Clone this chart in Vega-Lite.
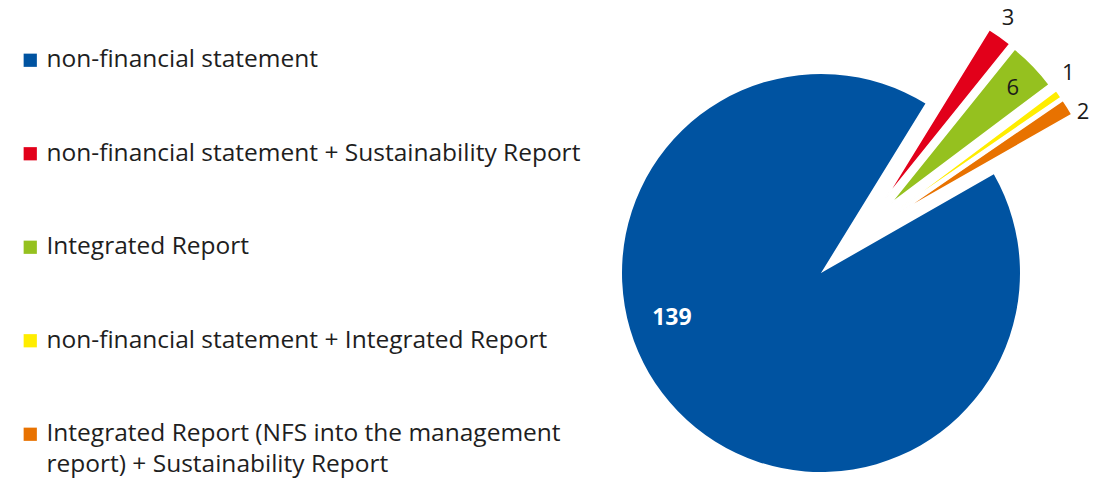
{
  "$schema": "https://vega.github.io/schema/vega-lite/v6.json",
  "width": 440,
  "height": 416,
  "autosize": {"type": "none"},
  "padding": {"left": 601, "top": 65, "right": 63, "bottom": 0},
  "background": "white",
  "config": {
    "view": {"stroke": null},
    "font": "Open Sans",
    "style": {"guide-label": {"lineHeight": 31}}
  },
  "data": {
    "values": [
      {"cat": "non-financial statement", "n": 139, "k": 1},
      {"cat": "non-financial statement + Sustainability Report", "n": 3, "k": 2},
      {"cat": "Integrated Report", "n": 6, "k": 3},
      {"cat": "non-financial statement + Integrated Report", "n": 1, "k": 4},
      {"cat": "Integrated Report (NFS into the management report) + Sustainability Report", "n": 2, "k": 5}
    ]
  },
  "encoding": {
    "theta": {"field": "n", "type": "quantitative", "stack": true, "scale": {"range": [1.052, 7.335]}},
    "order": {"field": "k", "type": "quantitative"},
    "color": {
      "field": "cat",
      "type": "nominal",
      "scale": {
        "domain": [
          "non-financial statement",
          "non-financial statement + Sustainability Report",
          "Integrated Report",
          "non-financial statement + Integrated Report",
          "Integrated Report (NFS into the management report) + Sustainability Report"
        ],
        "range": ["#0053A1", "#E2001A", "#95C11F", "#FFED00", "#E87200"]
      },
      "legend": {
        "orient": "none",
        "legendX": -583,
        "legendY": -17,
        "title": null,
        "symbolType": "square",
        "symbolSize": 175,
        "symbolStrokeWidth": 0,
        "labelFont": "Open Sans",
        "labelFontSize": 24.5,
        "labelColor": "#1e1e1e",
        "labelLimit": 700,
        "labelOffset": 4,
        "rowPadding": 68.5,
        "labelExpr": "datum.label == 'Integrated Report (NFS into the management report) + Sustainability Report' ? ['Integrated Report (NFS into the management', 'report) + Sustainability Report'] : datum.label"
      }
    }
  },
  "layer": [
    {
      "mark": {"type": "arc", "radius": 199},
      "encoding": {
        "opacity": {"condition": {"test": "datum.k == 1", "value": 1}, "value": 0}
      }
    },
    {
      "mark": {"type": "arc", "radius": 199, "xOffset": 64, "yOffset": -74, "stroke": "white", "strokeWidth": 1.5},
      "encoding": {
        "opacity": {"condition": {"test": "datum.k == 2", "value": 1}, "value": 0}
      }
    },
    {
      "mark": {"type": "arc", "radius": 199, "xOffset": 69, "yOffset": -69, "stroke": "white", "strokeWidth": 1.5},
      "encoding": {
        "opacity": {"condition": {"test": "datum.k == 3", "value": 1}, "value": 0}
      }
    },
    {
      "mark": {"type": "arc", "radius": 199, "xOffset": 76, "yOffset": -63, "stroke": "white", "strokeWidth": 1.5},
      "encoding": {
        "opacity": {"condition": {"test": "datum.k == 4", "value": 1}, "value": 0}
      }
    },
    {
      "mark": {"type": "arc", "radius": 199, "xOffset": 78, "yOffset": -60, "stroke": "white", "strokeWidth": 1.5},
      "encoding": {
        "opacity": {"condition": {"test": "datum.k == 5", "value": 1}, "value": 0}
      }
    },
    {
      "mark": {"type": "text", "radius": 156, "dx": -37, "dy": -63, "fontSize": 23, "fontWeight": "bold"},
      "encoding": {
        "color": {"value": "white"},
        "text": {"condition": {"test": "datum.k == 1", "field": "n", "type": "quantitative"}, "value": ""}
      }
    },
    {
      "mark": {"type": "text", "radius": 168, "xOffset": 71, "yOffset": -68, "fontSize": 22},
      "encoding": {
        "color": {"value": "#1a1a1a"},
        "text": {"condition": {"test": "datum.k == 3", "field": "n", "type": "quantitative"}, "value": ""}
      }
    },
    {
      "mark": {"type": "text", "radius": 222, "xOffset": 71, "yOffset": -68, "dx": -12, "dy": -6, "fontSize": 22},
      "encoding": {
        "color": {"value": "#1a1a1a"},
        "text": {"condition": {"test": "datum.k == 2", "field": "n", "type": "quantitative"}, "value": ""}
      }
    },
    {
      "mark": {"type": "text", "radius": 222, "xOffset": 71, "yOffset": -68, "dx": -4, "dy": -2, "fontSize": 22},
      "encoding": {
        "color": {"value": "#1a1a1a"},
        "text": {"condition": {"test": "datum.k == 4", "field": "n", "type": "quantitative"}, "value": ""}
      }
    },
    {
      "mark": {"type": "text", "radius": 222, "xOffset": 71, "yOffset": -68, "dx": 3, "dy": 25, "fontSize": 22},
      "encoding": {
        "color": {"value": "#1a1a1a"},
        "text": {"condition": {"test": "datum.k == 5", "field": "n", "type": "quantitative"}, "value": ""}
      }
    }
  ]
}
